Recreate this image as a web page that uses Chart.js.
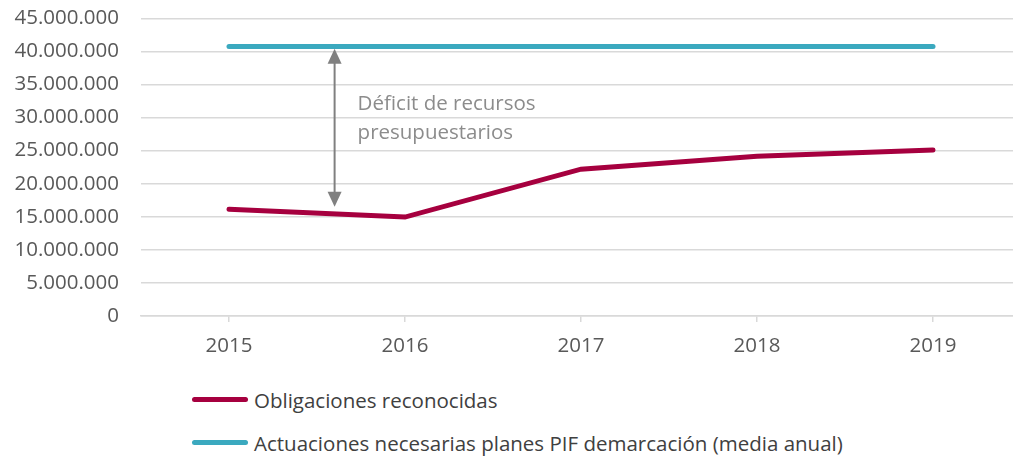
<!DOCTYPE html>
<html>
<head>
<meta charset="utf-8">
<script src="https://cdn.jsdelivr.net/npm/chart.js@4.4.1/dist/chart.umd.min.js"></script>
<style>
  html, body { margin: 0; padding: 0; background: #fff; overflow: hidden; }
  .wrap { position: relative; width: 1021px; height: 386px; margin-top: -16px; }
  .legend { position: absolute; left: 192px; top: 378px; font-family: "Open Sans", sans-serif; font-size: 20.5px; color: #404040; }
  .legend div { display: flex; align-items: center; height: 43px; }
  .legend span.line { display: inline-block; width: 56px; height: 5px; border-radius: 3px; margin-right: 6px; }
</style>
</head>
<body>
<div class="wrap"><canvas id="chart"></canvas></div>
<div class="legend">
  <div><span class="line" style="background:#A6003F"></span>Obligaciones reconocidas</div>
  <div><span class="line" style="background:#3BA9BF"></span>Actuaciones necesarias planes PIF demarcación (media anual)</div>
</div>
<script>
// data
const years = ['2015', '2016', '2017', '2018', '2019'];
const obligaciones = [16150000, 14950000, 22200000, 24150000, 25100000];
const actuaciones = [40750000, 40750000, 40750000, 40750000, 40750000];
const deficitLabel = ['Déficit de recursos', 'presupuestarios'];

// arrow between the two lines, in data units (category index, value)
const arrowX = 0.6;
const arrowTop = 40400000;
const arrowBottom = 16500000;

function fmt(v) {
    return String(v).replace(/\B(?=(\d{3})+(?!\d))/g, '.');
}

const deficitArrow = {
    id: 'deficitArrow',
    afterDatasetsDraw(chart) {
        const ctx = chart.ctx;
        const xs = chart.scales.x, ys = chart.scales.y;
        const x0 = xs.getPixelForValue(0), x1 = xs.getPixelForValue(1);
        const x = x0 + (x1 - x0) * arrowX;
        const yT = ys.getPixelForValue(arrowTop);
        const yB = ys.getPixelForValue(arrowBottom);
        ctx.save();
        ctx.strokeStyle = '#808080';
        ctx.fillStyle = '#808080';
        ctx.lineWidth = 2;
        ctx.beginPath();
        ctx.moveTo(x, yT + 12);
        ctx.lineTo(x, yB - 12);
        ctx.stroke();
        ctx.beginPath();
        ctx.moveTo(x, yT);
        ctx.lineTo(x - 7, yT + 15);
        ctx.lineTo(x + 7, yT + 15);
        ctx.closePath();
        ctx.fill();
        ctx.beginPath();
        ctx.moveTo(x, yB);
        ctx.lineTo(x - 7, yB - 15);
        ctx.lineTo(x + 7, yB - 15);
        ctx.closePath();
        ctx.fill();

        ctx.font = '20.5px "Open Sans", sans-serif';
        ctx.fillStyle = '#8C8C8C';
        ctx.textBaseline = 'middle';
        ctx.textAlign = 'left';
        const tx = x + 23;
        const ty = ys.getPixelForValue(32000000);
        ctx.fillText(deficitLabel[0], tx, ty);
        ctx.fillText(deficitLabel[1], tx, ty + 29);
        ctx.restore();
    }
};

let ctx = document.getElementById('chart').getContext('2d');

let chart = new Chart(ctx, {
    type: 'line',
    data: {
        labels: years,
        datasets: [{
            label: 'Obligaciones reconocidas',
            data: obligaciones,
            borderColor: '#A6003F',
            borderWidth: 5,
            borderCapStyle: 'round',
            pointRadius: 0,
            tension: 0
        }, {
            label: 'Actuaciones necesarias planes PIF demarcación (media anual)',
            data: actuaciones,
            borderColor: '#3BA9BF',
            borderWidth: 5,
            borderCapStyle: 'round',
            pointRadius: 0,
            tension: 0
        }]
    },
    options: {
        responsive: true,
        maintainAspectRatio: false,
        animation: false,
        layout: { padding: { top: -4, right: 0, left: 0, bottom: 0 } },
        plugins: {
            legend: { display: false },
            tooltip: { enabled: false }
        },
        scales: {
            x: {
                offset: true,
                grid: { display: true, drawOnChartArea: false, offset: false, tickLength: 6, color: '#D9D9D9', lineWidth: 1.5 },
                border: { display: true, color: '#D9D9D9', width: 1.5 },
                ticks: { color: '#595959', font: { family: 'Open Sans', size: 20.5 }, padding: 12 },
                afterFit(scale) { scale.height = 54; }
            },
            y: {
                min: 0,
                max: 45000000,
                ticks: {
                    stepSize: 5000000,
                    color: '#595959',
                    font: { family: 'Open Sans', size: 20.5 },
                    padding: 22,
                    callback: (v) => fmt(v)
                },
                grid: { color: '#D9D9D9', lineWidth: 1.5, drawTicks: false },
                border: { display: false },
                afterFit(scale) { scale.width = 141; }
            }
        }
    },
    plugins: [deficitArrow]
});
</script>
</body>
</html>
